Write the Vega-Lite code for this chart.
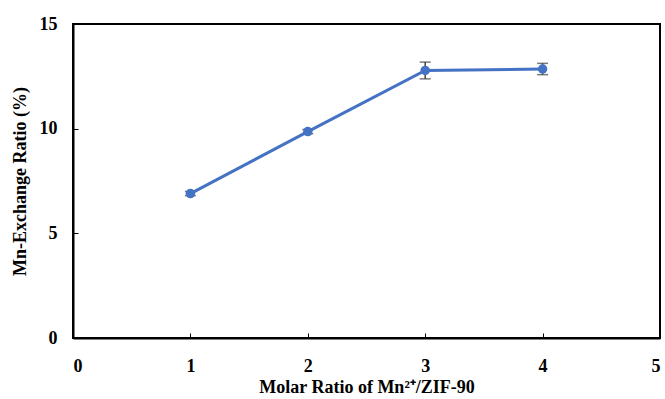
{
  "$schema": "https://vega.github.io/schema/vega-lite/v6.json",
  "width": 587,
  "height": 314,
  "autosize": {"type": "none"},
  "padding": {"left": 73, "top": 24, "right": 5, "bottom": 61},
  "background": "white",
  "config": {
    "view": {"stroke": "black", "strokeWidth": 2},
    "font": "Liberation Serif",
    "axis": {
      "grid": false,
      "domainColor": "black",
      "domainWidth": 2,
      "tickColor": "black",
      "tickWidth": 1,
      "tickSize": -5,
      "labelFont": "Liberation Serif",
      "labelFontSize": 18,
      "labelFontWeight": "bold",
      "labelColor": "black",
      "titleFont": "Liberation Serif",
      "titleFontSize": 18,
      "titleFontWeight": "bold",
      "titleColor": "black"
    }
  },
  "data": {
    "values": [
      {"ratio": 1, "exchange": 6.9, "lo": 6.8, "hi": 7.0},
      {"ratio": 2, "exchange": 9.86, "lo": 9.76, "hi": 9.96},
      {"ratio": 3, "exchange": 12.78, "lo": 12.38, "hi": 13.18},
      {"ratio": 4, "exchange": 12.85, "lo": 12.58, "hi": 13.12}
    ]
  },
  "encoding": {
    "x": {
      "field": "ratio",
      "type": "quantitative",
      "scale": {"domain": [0, 5], "nice": false},
      "axis": {"values": [0, 1, 2, 3, 4, 5], "title": "Molar Ratio of Mn²⁺/ZIF-90", "labelPadding": 24, "titlePadding": 3}
    }
  },
  "layer": [
    {
      "mark": {"type": "rule", "color": "#404040", "strokeWidth": 1.5},
      "encoding": {
        "y": {"field": "lo", "type": "quantitative", "scale": {"domain": [0, 15], "nice": false},
          "axis": {"values": [0, 5, 10, 15], "title": "Mn-Exchange Ratio (%)", "labelPadding": 21, "titlePadding": 10}},
        "y2": {"field": "hi"}
      }
    },
    {
      "mark": {"type": "tick", "orient": "horizontal", "color": "#404040", "size": 11, "thickness": 1.5},
      "encoding": {"y": {"field": "lo", "type": "quantitative"}}
    },
    {
      "mark": {"type": "tick", "orient": "horizontal", "color": "#404040", "size": 11, "thickness": 1.5},
      "encoding": {"y": {"field": "hi", "type": "quantitative"}}
    },
    {
      "mark": {"type": "line", "color": "#4472C4", "strokeWidth": 3},
      "encoding": {"y": {"field": "exchange", "type": "quantitative"}}
    },
    {
      "mark": {"type": "point", "filled": true, "color": "#4472C4", "opacity": 1, "size": 90, "shape": "circle"},
      "encoding": {"y": {"field": "exchange", "type": "quantitative"}}
    }
  ]
}
